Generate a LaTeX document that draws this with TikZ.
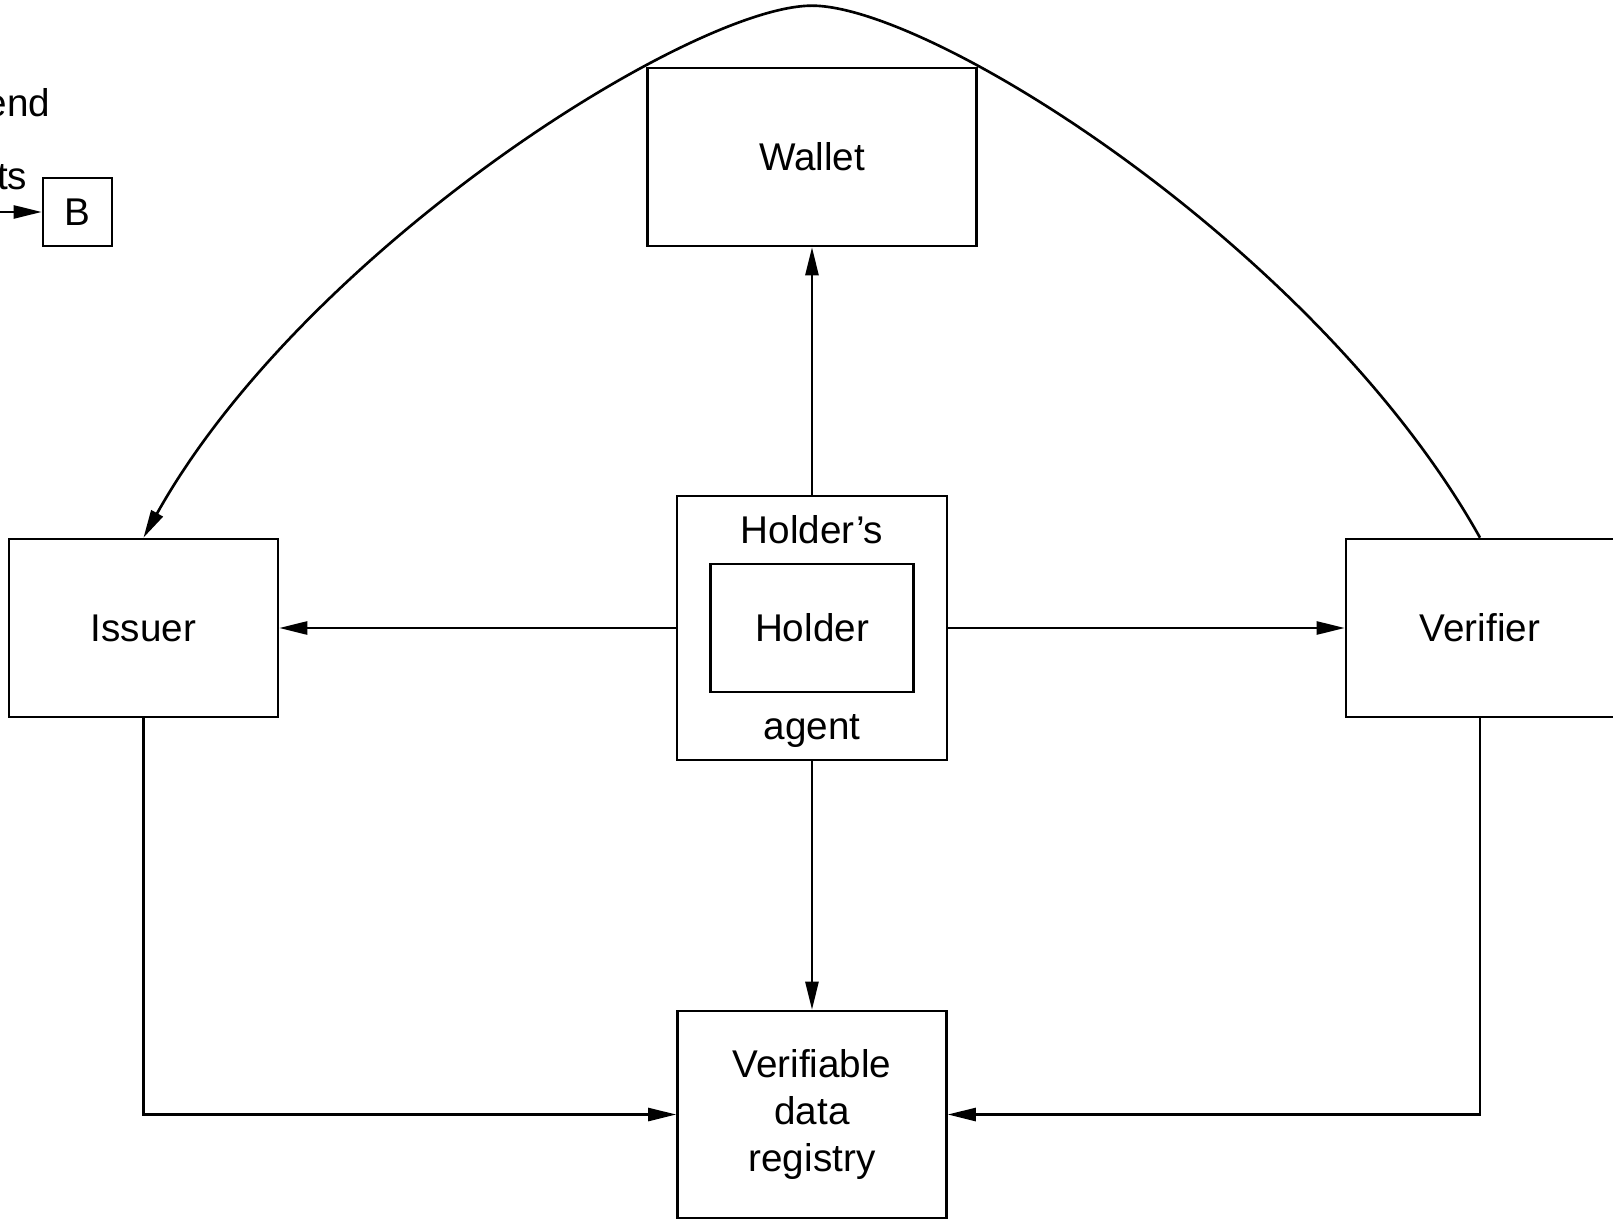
\documentclass[tikz,border=0pt]{standalone}
\usepackage{fontspec}
\setmainfont{Liberation Sans}
\usetikzlibrary{positioning,arrows.meta}
\begin{document}
\begin{tikzpicture}[node distance = 1cm, on grid,
		font=\fontsize{22pt}{27pt}\selectfont,
		line width=1.5pt,
		box/.style={draw, fill=white, align=center, inner sep=0pt},
		arr/.style={-{Triangle[length=5.6mm,width=2.6mm]}}]
	\useasboundingbox (-16.24,-11.94) rectangle (16.02,12.56);

	\node (agent) [box, minimum width=5.4cm, minimum height=5.28cm] at (0,0) {};
	\node (holder) [box, minimum width=4.06cm, minimum height=2.56cm] at (agent) {Holder};
	\node (holders) [above=0.38cm of holder.north, anchor=base] {Holder’s};
	\node (agenttxt) [below=0.92cm of holder.south, anchor=base] {agent};

	\node (wallet) [box, above=9.42cm of agent, minimum width=6.58cm, minimum height=3.56cm] {Wallet};
	\node (issuer) [box, left=13.37cm of agent, minimum width=5.38cm, minimum height=3.56cm] {Issuer};
	\node (verifier) [box, right=13.36cm of agent, minimum width=5.36cm, minimum height=3.56cm] {Verifier};
	\node (registry) [box, below=9.73cm of agent, minimum width=5.38cm, minimum height=4.14cm] {Verifiable\\data\\registry};

	\node (nodeB) [box, above left=8.32cm and 1.32cm of issuer, minimum width=1.38cm, minimum height=1.36cm] {B};
	\node (legend) [above left=1.9cm and 0.4cm of nodeB.center, anchor=base east] {end};
	\node (legarrow) [above left=0.44cm and 0.86cm of nodeB.center, anchor=base east] {ts};
	\coordinate [left=1cm of nodeB.west] (bin);
	\coordinate [above=1.22cm of wallet.north] (peak);

	\draw[arr] (agent) -- (wallet);
	\draw[arr] (agent) -- (issuer);
	\draw[arr] (agent) -- (verifier);
	\draw[arr] (agent) -- (registry);
	\draw[arr] (issuer.south) |- (registry.west);
	\draw[arr] (verifier.south) |- (registry.east);
	\draw[arr] (verifier.north) .. controls +(-3.22,5.76) and +(2.4,0) .. (peak)
		.. controls +(-2.4,0) and +(3.22,5.76) .. (issuer.north);
	\draw[arr] (bin) -- (nodeB);
\end{tikzpicture}
\end{document}
